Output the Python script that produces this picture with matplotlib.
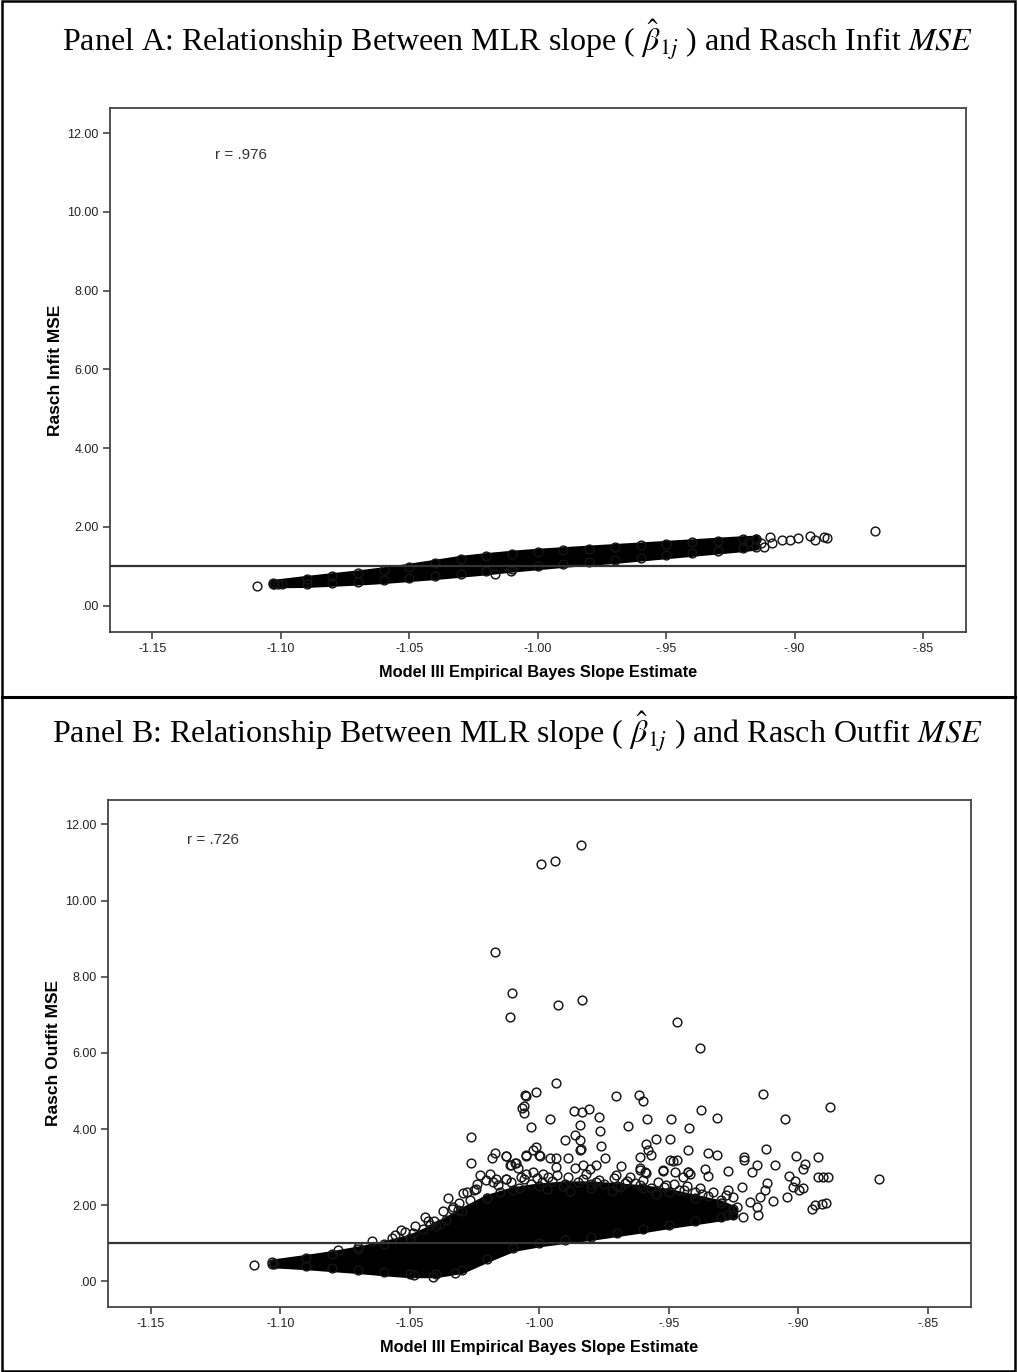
import matplotlib

matplotlib.use("Agg")
import matplotlib.pyplot as plt
from matplotlib.lines import Line2D
from matplotlib.patches import Rectangle
import numpy as np


# ---- data ----
X_TICKS = [-1.15, -1.10, -1.05, -1.00, -0.95, -0.90, -0.85]
X_TICK_LABELS = ["-1.15", "-1.10", "-1.05", "-1.00", "-.95", "-.90", "-.85"]
Y_TICKS = [0, 2, 4, 6, 8, 10, 12]
Y_TICK_LABELS = [".00", "2.00", "4.00", "6.00", "8.00", "10.00", "12.00"]
REF_Y = 1.0

# Panel A: dense band (circle-centre envelope) + visible single circles
A_BAND_X = [-1.103, -1.09, -1.08, -1.07, -1.06, -1.05, -1.04, -1.03, -1.02, -1.01,
            -1.00, -0.99, -0.98, -0.97, -0.96, -0.95, -0.94, -0.93, -0.92, -0.915]
A_BAND_LO = [0.54, 0.55, 0.58, 0.61, 0.65, 0.70, 0.75, 0.81, 0.87, 0.94,
             1.00, 1.06, 1.11, 1.16, 1.22, 1.28, 1.34, 1.40, 1.46, 1.50]
A_BAND_HI = [0.58, 0.68, 0.75, 0.82, 0.90, 0.99, 1.09, 1.19, 1.26, 1.32,
             1.37, 1.41, 1.45, 1.49, 1.53, 1.57, 1.61, 1.65, 1.69, 1.70]
A_PTS_X = [-1.1094, -1.1027, -1.1013, -1.0995, -1.0168, -1.0103, -0.918, -0.915, -0.913,
           -0.9121, -0.9096, -0.9089, -0.905, -0.9017, -0.8985, -0.894, -0.892, -0.8887,
           -0.8874, -0.8686]
A_PTS_Y = [0.51, 0.56, 0.56, 0.56, 0.81, 0.87, 1.62, 1.68, 1.58,
           1.50, 1.755, 1.59, 1.67, 1.67, 1.71, 1.77, 1.67, 1.755,
           1.71, 1.90]

# Panel B: dense core envelope + visible single circles
B_BAND_X = [-1.103, -1.09, -1.08, -1.07, -1.06, -1.05, -1.04, -1.03, -1.02, -1.01,
            -1.00, -0.99, -0.98, -0.97, -0.96, -0.95, -0.94, -0.93, -0.925]
B_BAND_LO = [0.45, 0.40, 0.35, 0.30, 0.24, 0.19, 0.19, 0.30, 0.60, 0.88,
             1.00, 1.09, 1.17, 1.27, 1.37, 1.48, 1.58, 1.68, 1.74]
B_BAND_HI = [0.50, 0.62, 0.72, 0.84, 0.98, 1.15, 1.45, 1.85, 2.20, 2.40,
             2.50, 2.55, 2.55, 2.50, 2.45, 2.35, 2.20, 2.05, 1.90]
B_PTS_X = [
    -0.9837, -0.9939, -0.9992, -1.0172, -1.0106, -1.0114, -0.9926, -0.9835, -0.9469, -0.9380,
    -0.9935, -1.0053, -1.0055, -1.0060, -1.0065, -1.0060, -1.0013, -1.0031, -0.9960, -0.9705,
    -0.9616, -0.9598, -0.9867, -0.9836, -0.9808, -0.9768, -0.9657, -0.9585, -0.9492, -0.9375,
    -0.9315, -0.9422, -0.9135, -0.8877, -0.9051,
    -1.0265, -1.0265, -1.0169, -1.0183, -1.0127, -1.0011, -1.0001, -1.0053, -1.0095, -0.9960,
    -0.9937, -0.9889, -0.9843, -0.9760, -0.9747, -0.9767, -0.9843, -0.9902, -0.9863, -0.9843,
    -0.9837, -0.9612, -0.9580, -0.9567, -0.9586, -0.9551, -0.9496, -0.9427, -0.9348, -0.9315,
    -0.9208, -0.9208, -0.9010, -0.8922, -0.9126, -0.9496, -0.9470, -0.9483,
    -1.0227, -1.0189, -1.0205, -1.0160, -1.0114, -1.0089, -1.0069, -1.0024, -1.0127, -1.0108,
    -1.0053, -1.0024, -0.9998, -0.9934, -0.9863, -0.9831, -0.9805, -0.9779, -1.0166, -1.0127,
    -1.0082, -1.0050, -0.9986, -0.9966, -0.9683, -0.9612, -0.9590, -0.9524, -0.9425, -0.9702,
    -0.9650, -0.9612, -0.9586, -0.9522, -0.9444, -0.9418, -0.9160, -0.9090, -0.8974, -0.8980,
    -0.9270, -0.9180, -0.9036, -0.8922, -0.8903, -0.8884, -0.8688, -0.9012, -0.9019, -0.8997,
    -0.8980, -0.9122, -0.9045, -0.9096, -0.8948, -0.8935, -0.8909, -0.8892, -0.9348, -0.9360,
    -0.9476, -0.9425,
    -1.0353, -1.0295, -1.0338, -1.0430, -1.0407, -1.0533, -1.0488, -1.0555, -1.0645, -1.0701,
    -1.0778, -1.1101, -1.1023, -1.0411, -1.0482, -1.0327, -1.0250, -1.0269, -1.0314, -1.0385,
    -1.0359, -1.0450, -1.0333, -1.0243,
    -0.9270, -0.9251, -0.9219, -0.9186, -0.9160, -0.9154, -0.9212, -0.9277, -0.9148, -0.9128,
    -0.9238,
    -1.015, -1.008, -1.003, -0.997, -0.991, -0.985, -0.980, -0.975, -0.969, -0.963,
    -0.957, -0.951, -0.946, -0.940, -0.935, -0.930, -1.020, -0.988, -0.972, -0.955,
    -1.024, -1.018, -1.013, -1.006, -1.001, -0.995, -0.989, -0.983, -0.977, -0.971,
    -0.966, -0.960, -0.954, -0.948, -0.943, -0.938, -0.933, -0.928, -1.028, -1.011,
    -0.999, -0.993, -0.982, -0.978, -0.967, -0.961, -0.952, -0.944, -0.937, -1.031,
    -1.037, -1.044, -1.048, -1.042, -1.052, -1.057,
]
B_PTS_Y = [
    11.45, 11.03, 10.95, 8.64, 7.57, 6.94, 7.26, 7.39, 6.82, 6.14,
    5.22, 4.88, 4.89, 4.61, 4.55, 4.43, 4.98, 4.06, 4.27, 4.87,
    4.90, 4.74, 4.48, 4.44, 4.52, 4.32, 4.07, 4.27, 4.27, 4.50,
    4.28, 4.02, 4.91, 4.57, 4.26,
    3.79, 3.12, 3.38, 3.25, 3.30, 3.52, 3.32, 3.32, 3.11, 3.25,
    3.23, 3.25, 3.45, 3.56, 3.25, 3.95, 4.11, 3.71, 3.84, 3.71,
    3.47, 3.27, 3.45, 3.33, 3.62, 3.73, 3.73, 3.45, 3.38, 3.33,
    3.27, 3.20, 3.29, 3.27, 3.49, 3.18, 3.18, 3.16,
    2.79, 2.83, 2.66, 2.53, 3.05, 3.11, 2.74, 2.88, 3.29, 3.07,
    3.29, 3.45, 3.29, 3.01, 2.99, 3.05, 2.95, 3.05, 2.70, 2.70,
    2.97, 2.83, 2.83, 2.75, 3.03, 2.92, 2.88, 2.89, 2.87, 2.79,
    2.74, 2.97, 2.86, 2.92, 2.74, 2.83, 3.07, 3.07, 3.08, 2.94,
    2.89, 2.88, 2.76, 2.74, 2.74, 2.74, 2.68, 2.63, 2.48, 2.41,
    2.45, 2.59, 2.22, 2.11, 1.91, 2.02, 2.04, 2.07, 2.76, 2.95,
    2.88, 2.88,
    2.20, 2.31, 1.91, 1.59, 1.59, 1.36, 1.28, 1.21, 1.06, 0.90,
    0.83, 0.42, 0.47, 0.13, 0.16, 0.22, 2.39, 2.13, 1.87, 1.52,
    1.61, 1.39, 1.96, 2.44,
    2.39, 2.22, 2.48, 2.09, 1.96, 1.74, 1.69, 1.74, 2.22, 2.39,
    1.96,
    2.35, 2.45, 2.55, 2.42, 2.50, 2.60, 2.45, 2.55, 2.48, 2.58,
    2.45, 2.52, 2.40, 2.35, 2.25, 2.15, 2.20, 2.38, 2.38, 2.30,
    2.55, 2.62, 2.70, 2.68, 2.72, 2.65, 2.75, 2.70, 2.66, 2.72,
    2.64, 2.66, 2.60, 2.55, 2.50, 2.45, 2.35, 2.28, 2.35, 2.60,
    2.62, 2.80, 2.82, 2.62, 2.58, 2.52, 2.48, 2.40, 2.30, 2.05,
    1.85, 1.70, 1.45, 1.48, 1.30, 1.15,
]

PANELS = [
    {
        "title": r"Panel A: Relationship Between MLR slope ( $\hat{\beta}_{1j}$ ) and Rasch Infit $MSE$",
        "ylabel": "Rasch Infit MSE",
        "r_text": "r = .976",
        "r_pos": (0.123, 0.910),
        "band": (A_BAND_X, A_BAND_LO, A_BAND_HI),
        "pts": (A_PTS_X, A_PTS_Y),
        "rect": [110 / 1018, 1 - 632 / 1372, 856 / 1018, 524 / 1372],
        "title_y": 1 - 40 / 1372,
    },
    {
        "title": r"Panel B: Relationship Between MLR slope ( $\hat{\beta}_{1j}$ ) and Rasch Outfit $MSE$",
        "ylabel": "Rasch Outfit MSE",
        "r_text": "r = .726",
        "r_pos": (0.0915, 0.921),
        "band": (B_BAND_X, B_BAND_LO, B_BAND_HI),
        "pts": (B_PTS_X, B_PTS_Y),
        "rect": [108 / 1018, 1 - 1307 / 1372, 863 / 1018, 507 / 1372],
        "title_y": 1 - 732 / 1372,
    },
]

XLIM = (-1.1665, -0.8333)
YLIM = (-0.67, 12.64)
INK = "#151515"
SPINE = "#444444"
MS = 6.3
MEW = 1.05


def draw_panel(fig, panel):
    ax = fig.add_axes(panel["rect"])
    bx, lo, hi = (np.asarray(v) for v in panel["band"])
    ax.fill_between(bx, lo, hi, color="black", lw=5, edgecolor="black", joinstyle="round", zorder=2)
    ax.plot(bx, lo, "o", ms=MS, mfc="none", mec=INK, mew=MEW, zorder=3)
    ax.plot(bx, hi, "o", ms=MS, mfc="none", mec=INK, mew=MEW, zorder=3)
    px, py = panel["pts"]
    ax.plot(px, py, "o", ms=MS, mfc="none", mec=INK, mew=MEW, zorder=3)
    ax.axhline(REF_Y, color="#333333", lw=1.6, zorder=4)

    ax.set_xlim(*XLIM)
    ax.set_ylim(*YLIM)
    ax.set_xticks(X_TICKS)
    ax.set_xticklabels(X_TICK_LABELS)
    ax.set_yticks(Y_TICKS)
    ax.set_yticklabels(Y_TICK_LABELS)
    ax.tick_params(direction="out", length=5, width=1.2, color=SPINE, labelsize=9,
                   labelcolor="#222222", pad=3)
    for tl in ax.get_xticklabels() + ax.get_yticklabels():
        tl.set_family("Liberation Sans")
    for sp in ax.spines.values():
        sp.set_color(SPINE)
        sp.set_linewidth(1.3)

    ax.set_xlabel("Model III Empirical Bayes Slope Estimate", family="Liberation Sans",
                  fontsize=11.8, fontweight="bold", labelpad=7)
    ax.set_ylabel(panel["ylabel"], family="Liberation Sans", fontsize=12.5,
                  fontweight="bold", labelpad=3)
    ax.text(*panel["r_pos"], panel["r_text"], transform=ax.transAxes, ha="left", va="center",
            family="Liberation Sans", fontsize=11, color="#333333")

    fig.text(0.508, panel["title_y"], panel["title"], ha="center", va="center",
             family="Liberation Serif", fontsize=23)
    return ax


def main() -> None:
    plt.rcParams["mathtext.fontset"] = "stix"
    fig = plt.figure(figsize=(10.18, 13.72), dpi=100)

    for panel in PANELS:
        draw_panel(fig, panel)

    # table-like frame around the two panels
    fig.add_artist(Rectangle((0.0015, 0.001), 0.996, 0.998, transform=fig.transFigure,
                             fill=False, lw=1.8, edgecolor="black"))
    y_div = 1 - 697 / 1372
    fig.add_artist(Line2D([0.0015, 0.9975], [y_div, y_div], transform=fig.transFigure,
                          color="black", lw=2.2))

    fig.savefig("out.png", dpi=100)
    plt.close(fig)


if __name__ == "__main__":
    main()
